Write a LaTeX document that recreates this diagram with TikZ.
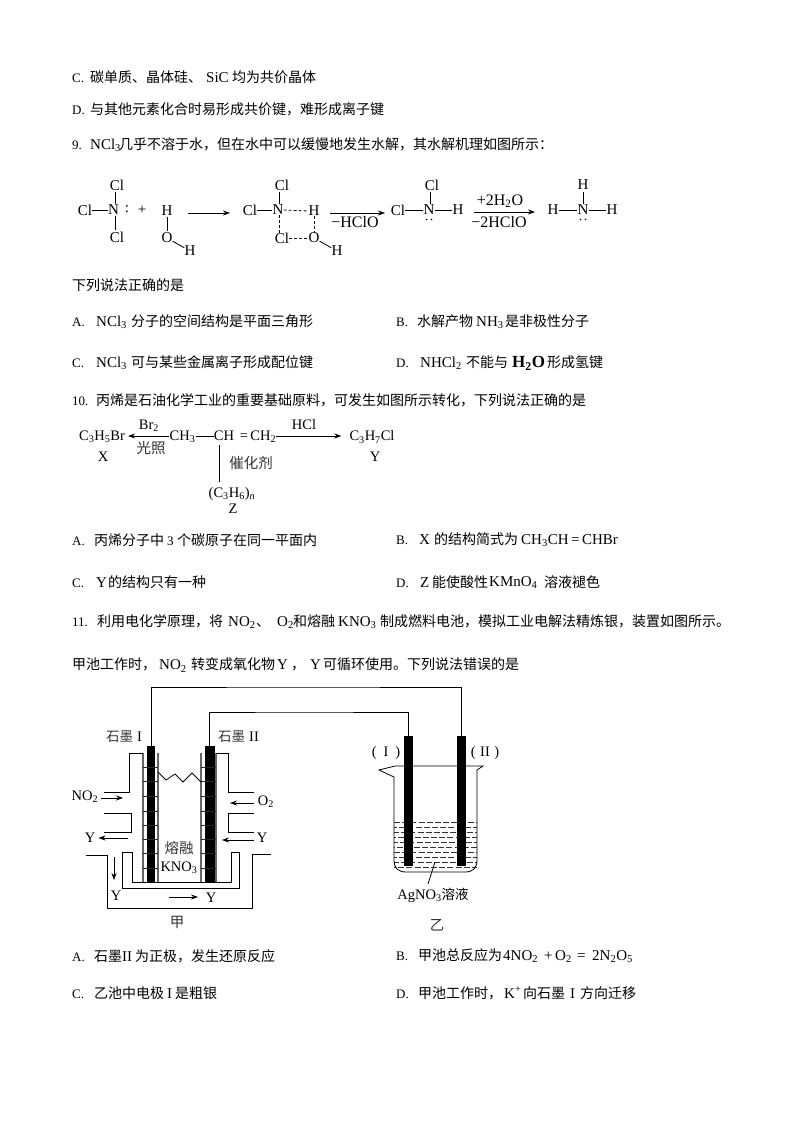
\documentclass[tikz,border=0pt]{standalone}
\usepackage{fontspec}
\setmainfont{Liberation Serif}
\newfontfamily\cjkf{Noto Sans CJK SC}
\usetikzlibrary{arrows.meta}
\newcommand\zh[1]{{\cjkf #1}}
\newcommand\bx[2]{\makebox[#1pt][l]{#2}}
\newcommand\lat[1]{{\fontsize{15}{15}\selectfont #1}}
\newcommand\ltr[1]{{\fontsize{13}{15}\selectfont #1}}
\tikzset{
  para/.style={anchor=west,inner sep=0pt,yshift=-1pt,font=\fontsize{14}{16}\selectfont},
  atom/.style={inner sep=0pt,font=\fontsize{15}{17}\selectfont},
  lab/.style={inner sep=0pt,font=\fontsize{14.5}{16}\selectfont},
  big/.style={inner sep=0pt,font=\fontsize{16}{17}\selectfont},
  zlab/.style={inner sep=0pt,font=\fontsize{14.5}{16}\selectfont\cjkf,text=black!80},
  bond/.style={line width=0.8pt,black},
  vbond/.style={line width=0.8pt,black,shorten >=1.5pt,shorten <=0.5pt},
  hb/.style={line width=0.8pt,black,dash pattern=on 3pt off 2pt},
  arr/.style={line width=0.8pt,black,-{Stealth[length=7pt,width=5pt]}},
  wire/.style={line width=0.8pt,black},
  frame/.style={line width=0.8pt,black},
  grid/.style={line width=1.2pt,black!60},
  rod/.style={fill=black,draw=none,inner sep=0pt},
}
\begin{document}
\begin{tikzpicture}[x=1pt,y=-1pt]
\useasboundingbox (0,0) rectangle (794,1123);
\fill[white] (0,0) rectangle (794,1123);
% ---------- body text
\node[para] (t1) at (72,76) {\bx{18}{\ltr{C.}}\zh{碳单质、晶体硅、}\hspace{4pt}\bx{26}{\lat{SiC}}\zh{均为共价晶体}};
\node[para] (t2) at (72,108) {\bx{18}{\ltr{D.}}\zh{与其他元素化合时易形成共价键，难形成离子键}};
\node[para] (t3) at (72,144) {\bx{18}{\ltr{9.}}\bx{29}{\lat{NCl\textsubscript{3}}}\zh{几乎不溶于水，但在水中可以缓慢地发生水解，其水解机理如图所示：}};
\node[para] (t4) at (72,284) {\zh{下列说法正确的是}};
\node[para] (t5) at (72,321) {\bx{24}{\ltr{A.}}\bx{35}{\lat{NCl\textsubscript{3}}}\zh{分子的空间结构是平面三角形}};
\node[para] (t6) at (396,321) {\bx{21}{\ltr{B.}}\zh{水解产物}\hspace{3pt}\bx{29}{\lat{NH\textsubscript{3}}}\zh{是非极性分子}};
\node[para] (t7) at (72,362) {\bx{24}{\ltr{C.}}\bx{35}{\lat{NCl\textsubscript{3}}}\zh{可与某些金属离子形成配位键}};
\node[para] (t8) at (396,362) {\bx{24}{\ltr{D.}}\bx{46}{\lat{NHCl\textsubscript{2}}}\zh{不能与}\hspace{4pt}\bx{35}{{\fontsize{17}{17}\selectfont\bfseries H\textsubscript{2}O}}\zh{形成氢键}};
\node[para] (t9) at (72,399) {\bx{24}{\ltr{10.}}\zh{丙烯是石油化学工业的重要基础原料，可发生如图所示转化，下列说法正确的是}};
\node[para] (t10) at (72,539) {\bx{22}{\ltr{A.}}\zh{丙烯分子中}\bx{13}{\hspace{3pt}\ltr{3}}\zh{个碳原子在同一平面内}};
\node[para] (t11) at (396,539) {\bx{23}{\ltr{B.}}\bx{15}{\lat{X}}\zh{的结构简式为}\hspace{3pt}\lat{CH\textsubscript{3}CH\,=\,CHBr}};
\node[para] (t12) at (72,581) {\bx{24}{\ltr{C.}}\bx{12}{\lat{Y}}\zh{的结构只有一种}};
\node[para] (t13) at (396,581) {\bx{24}{\ltr{D.}}\bx{12}{\lat{Z}}\zh{能使酸性}\hspace{1pt}\bx{55}{\raisebox{1pt}{\lat{KMnO\textsubscript{4}}}}\zh{溶液褪色}};
\node[para] (t14) at (72,621) {\bx{25}{\ltr{11.}}\zh{利用电化学原理，将}\hspace{5pt}\bx{28}{\lat{NO\textsubscript{2}}}\zh{、}\hspace{7pt}\bx{16}{\lat{O\textsubscript{2}}}\zh{和熔融}\hspace{3pt}\bx{42}{\lat{KNO\textsubscript{3}}}\zh{制成燃料电池，模拟工业电解法精炼银，装置如图所示。}};
\node[para] (t15) at (72,664) {\zh{甲池工作时，}\hspace{3pt}\bx{32}{\lat{NO\textsubscript{2}}}\zh{转变成氧化物}\hspace{2pt}\bx{14}{\lat{Y}}\zh{，}\hspace{5pt}\bx{13}{\lat{Y}}\zh{可循环使用。下列说法错误的是}};
\node[para] (t16) at (72,955) {\bx{22}{\ltr{A.}}\zh{石墨}\bx{13}{\lat{II}}\zh{为正极，发生还原反应}};
\node[para] (t17) at (396,955) {\bx{22}{\ltr{B.}}\zh{甲池总反应为}\hspace{1pt}\bx{41}{\lat{4NO\textsubscript{2}}}\bx{11}{\lat{+}}\bx{22}{\lat{O\textsubscript{2}}}\bx{15}{\lat{=}}\lat{2N\textsubscript{2}O\textsubscript{5}}};
\node[para] (t18) at (72,992) {\bx{22}{\ltr{C.}}\zh{乙池中电极}\bx{11}{\hspace{3pt}\lat{I}}\zh{是粗银}};
\node[para] (t19) at (396,992) {\bx{22}{\ltr{D.}}\zh{甲池工作时，}\hspace{2pt}\bx{19}{\lat{K\textsuperscript{+}}}\zh{向石墨}\hspace{2pt}\bx{13}{\hspace{3pt}\lat{I}}\zh{方向迁移}};
% ---------- hydrolysis scheme
\node[atom] (a1n) at (113.5,210) {N};
\node[atom] (a1t) at (117,185) {Cl};
\node[atom] (a1l) at (85,210) {Cl};
\node[atom] (a1b) at (117,237) {Cl};
\node[atom] (a1c) at (127,209) {:};
\node[atom] (plus) at (142,210) {+};
\node[atom] (w1h) at (167,211) {H};
\node[atom] (w1o) at (167,238) {O};
\node[atom] (w1i) at (190,251) {H};
\draw[vbond] (a1n.north) ++(1.5,0) coordinate (a1nu) -- (a1nu |- a1t.south);
\draw[bond] (a1n.west) -- (a1l.east);
\draw[vbond] (a1n.south) ++(1.5,0) coordinate (a1nd) -- (a1nd |- a1b.north);
\draw[vbond] (w1h) -- (w1o); \draw[bond] (w1o) -- (w1i);
\coordinate (r1a) at (188,213); \coordinate (r1b) at (230,213);
\draw[arr] (r1a) -- (r1b);
\node[atom] (a2n) at (278,210) {N};
\node[atom] (a2l) at (250,210) {Cl};
\node[atom] (a2t) at (282,185) {Cl};
\node[atom] (a2b) at (282,238) {Cl};
\node[atom] (a2h) at (314,211) {H};
\node[atom] (a2o) at (314,238) {O};
\node[atom] (a2i) at (337,251) {H};
\draw[bond] (a2n) -- (a2l);
\draw[vbond] (a2n.north) ++(1.5,0) coordinate (a2nu) -- (a2nu |- a2t.south);
\draw[bond] (a2o) -- (a2i);
\draw[hb] (a2n.east) -- (a2h.west);
\draw[hb] (a2n.south) ++(1.5,0) coordinate (a2nd) -- (a2nd |- a2b.north);
\draw[hb] (a2b.east) -- (a2o.west);
\draw[hb] (a2h) -- (a2o);
\coordinate (r2a) at (330,213); \coordinate (r2b) at (385,213);
\draw[arr] (r2a) -- (r2b);
\node[big] (r2l) at (355,222) {−HClO};
\node[atom] (a3n) at (429,210) {N};
\node[atom] (a3l) at (398,210) {Cl};
\node[atom] (a3t) at (432,185) {Cl};
\node[atom] (a3h) at (458,210) {H};
\draw[bond] (a3n) -- (a3l);
\draw[vbond] (a3n.north) ++(1.5,0) coordinate (a3nu) -- (a3nu |- a3t.south);
\draw[bond] (a3n) -- (a3h);
\fill (426.5,219.5) circle (0.8pt) (431.5,219.5) circle (0.8pt);
\coordinate (r3a) at (474,212); \coordinate (r3b) at (535,212);
\draw[arr] (r3a) -- (r3b);
\node[big] (r3t) at (500,201) {+2H\textsubscript{2}O};
\node[big] (r3l) at (499,222) {−2HClO};
\node[atom] (a4n) at (583,210) {N};
\node[atom] (a4l) at (553,210) {H};
\node[atom] (a4r) at (612,210) {H};
\node[atom] (a4t) at (583,185) {H};
\draw[bond] (a4n) -- (a4l); \draw[bond] (a4n) -- (a4r); \draw[vbond] (a4n) -- (a4t);
\fill (580.5,219.5) circle (0.8pt) (585.5,219.5) circle (0.8pt);
% ---------- propene scheme
\node[lab] (px) at (102,437) {C\textsubscript{3}H\textsubscript{5}Br};
\node[lab] (pxl) at (103,457) {X};
\node[lab] (pbr) at (149,426) {Br\textsubscript{2}};
\node[zlab] (pgz) at (151,448) {光照};
\node[lab] (pch3) at (182.5,437) {CH\textsubscript{3}};
\node[lab] (pch) at (224,436) {CH};
\node[lab] (pch2) at (258,437) {=\,CH\textsubscript{2}};
\node[lab] (py) at (372,437) {C\textsubscript{3}H\textsubscript{7}Cl};
\node[lab] (pyl) at (375,457) {Y};
\node[lab] (phcl) at (304,425) {HCl};
\node[zlab] (pcat) at (251,463) {催化剂};
\node[lab] (pz) at (232,494) {(C\textsubscript{3}H\textsubscript{6})\textsubscript{\itshape n}};
\node[lab] (pzl) at (233,509) {Z};
\draw[arr,shorten >=3pt] (pch3.west |- pch.west) -- (px.east |- pch.west);
\draw[bond] (pch3.east |- pch.west) -- (pch.west);
\draw[arr,shorten >=8pt] (pch2.east |- pch.west) -- (py.west |- pch.west);
\coordinate (pv1) at (219,445); \coordinate (pv2) at (219,482);
\draw[bond] (pv1) -- (pv2);
% ---------- galvanic cell
\node[rod,minimum width=8.5pt,minimum height=136pt] (e1) at (151,814) {};
\node[rod,minimum width=10pt,minimum height=136pt] (e2) at (209.5,814) {};
\node[rod,minimum width=9pt,minimum height=130pt] (e3) at (408.5,801) {};
\node[rod,minimum width=9pt,minimum height=130pt] (e4) at (461,801) {};
\coordinate (w1) at (300,687); \coordinate (w2) at (300,712);
\draw[wire] (e1.north) |- (w1) -| (e4.north);
\draw[wire] (e2.north) |- (w2) -| (e3.north);
% porous sleeves
\foreach \xa/\xb in {143/158,201/216}{
  \draw[grid] (\xa,753) -- (\xa,882);
  \draw[grid] (\xb,753) -- (\xb,882);
  \foreach \y in {767,781,796,811,825,839,853,868}
    \draw[line width=0.8pt,black!85] (\xa,\y) -- (\xb,\y);
}
% housing
\draw[frame] (104,792) -- (129,792) -- (129,753) -- (143,753);
\draw[frame] (254,792) -- (228,792) -- (228,753) -- (216,753);
\draw[frame] (158,772) -- (166,780) -- (175,774) -- (183,782) -- (192,773) -- (201,782);
\draw[frame] (104,813) -- (131,813) -- (131,832) -- (104,832);
\draw[frame] (254,813) -- (228,813) -- (228,832) -- (254,832);
\draw[frame] (86,855) -- (107,855) -- (107,908) -- (252,908) -- (252,854) -- (271,854);
\draw[frame] (122,852) -- (122,888) -- (239,888) -- (239,852) -- (231,852) -- (231,882) -- (132,882) -- (132,852) -- cycle;
\node[lab] (no2) at (85,797) {NO\textsubscript{2}};
\node[lab] (o2) at (266,802) {O\textsubscript{2}};
\node[lab] (yl) at (90,838) {Y};
\node[lab] (yr) at (262,838) {Y};
\node[lab] (yd) at (116,896) {Y};
\node[lab] (yb) at (211,898) {Y};
\coordinate (ar1) at (123,798); \coordinate (ar2) at (230,803);
\coordinate (ar3) at (128,838); \coordinate (ar4) at (222,840);
\coordinate (ar5) at (114,857); \coordinate (ar6) at (114,880);
\coordinate (ar7) at (169,897); \coordinate (ar8) at (198,897);
\draw[arr,shorten <=3pt] (no2.east |- ar1) -- (ar1);
\draw[arr,shorten <=4pt] (o2.west |- ar2) -- (ar2);
\draw[arr,shorten >=3pt] (ar3) -- (yl.east |- ar3);
\draw[arr,shorten <=3pt] (yr.west |- ar4) -- (ar4);
\draw[arr] (ar5) -- (ar6);
\draw[arr] (ar7) -- (ar8);
\node[zlab] (jia) at (177,922) {甲};
\node[zlab] (rr) at (179,848) {熔融};
\node[lab] (kno) at (179,868) {KNO\textsubscript{3}};
\node[lab,anchor=west] (s1) at (106,737) {\zh{\fontsize{13.5}{15}\selectfont\color{black!80}石墨}\hspace{4pt}I};
\node[lab,anchor=west] (s2) at (218,737) {\zh{\fontsize{13.5}{15}\selectfont\color{black!80}石墨}\hspace{4pt}II};
% ---------- electrolytic cell
\begin{scope}
\clip (394,820) rectangle (477,871);
\foreach \y/\ph in {822/0,827/3,832/1,837/4,842/2,847/5,852/0,857/3,862/1,867/4}
  \draw[line width=0.6pt,black!80,dash pattern=on 6pt off 2.2pt,dash phase=\ph pt] (394,\y) -- (477,\y);
\end{scope}
\draw[frame] (395,766) -- (483,766) -- (477,770) -- (477,860) .. controls (477,868) and (473,872) .. (465,872) -- (406,872) .. controls (398,872) and (394,868) .. (394,860) -- (394,777) -- (379,770) -- cycle;
\node[rod,minimum width=9pt,minimum height=130pt] (e3b) at (408.5,801) {};
\node[rod,minimum width=9pt,minimum height=130pt] (e4b) at (461,801) {};
\node[lab] (p1) at (386,753) {(\hspace{7pt}I\hspace{7pt})};
\node[lab] (p2) at (485,753) {(\hspace{4.5pt}II\hspace{4.5pt})};
\node[lab] (ag) at (433,895) {AgNO\textsubscript{3}\zh{\fontsize{13.5}{15}\selectfont 溶液}};
\coordinate (lq) at (435,862); \coordinate (lq2) at (428,884);
\draw[bond] (lq) -- (lq2);
\node[zlab] (yi) at (437,925) {乙};
\end{tikzpicture}
\end{document}
